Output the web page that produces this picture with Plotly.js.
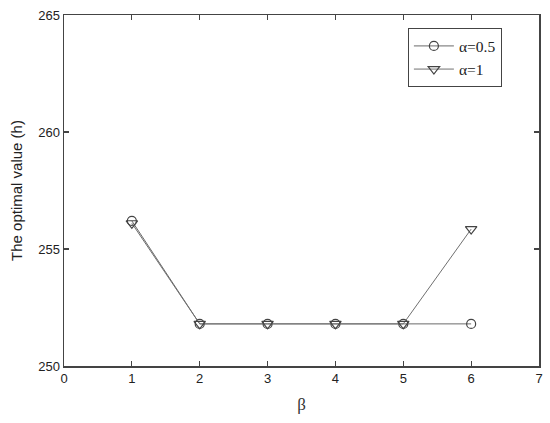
<!DOCTYPE html>
<html>
<head>
<meta charset="utf-8">
<script src="https://cdn.plot.ly/plotly-3.0.1.min.js"></script>
<style>html,body{margin:0;padding:0;background:#fff;}#chart{width:550px;height:423px;}</style>
</head>
<body>
<div id="chart"></div>
<script>
const beta = [1, 2, 3, 4, 5, 6];
const alpha05 = [256.2, 251.8, 251.8, 251.8, 251.8, 251.8];
const alpha1 = [256.1, 251.8, 251.8, 251.8, 251.8, 255.85];
const seriesNames = ['\u03b1=0.5', '\u03b1=1'];
const xTicks = [0, 1, 2, 3, 4, 5, 6, 7];
const yTicks = [250, 255, 260, 265];

const traces = [
  {
    x: beta, y: alpha05, name: seriesNames[0], type: 'scatter', mode: 'lines+markers',
    line: {color: '#6a6a6a', width: 1},
    marker: {symbol: 'circle-open', size: 9, color: '#444', line: {width: 1.2, color: '#444'}}
  },
  {
    x: beta, y: alpha1, name: seriesNames[1], type: 'scatter', mode: 'lines+markers',
    line: {color: '#707070', width: 1},
    marker: {symbol: 'triangle-down-open', size: 10, color: '#444', line: {width: 1.2, color: '#444'}}
  }
];

const axisCommon = {
  showgrid: false, zeroline: false, showline: true, linecolor: '#444', linewidth: 1.5,
  mirror: 'ticks', ticks: 'inside', ticklen: 5, tickwidth: 1.2, tickcolor: '#444',
  tickfont: {family: 'Liberation Sans, Arial, sans-serif', size: 13, color: '#222'}
};

const layout = {
  width: 550, height: 423,
  margin: {l: 64, r: 11, t: 15, b: 57},
  paper_bgcolor: '#fff', plot_bgcolor: '#fff',
  showlegend: true,
  xaxis: Object.assign({}, axisCommon, {
    range: [0, 7], tickvals: xTicks,
    title: {text: '\u03b2', font: {family: 'Liberation Serif, Times New Roman, serif', size: 17, color: '#333'}, standoff: 13}
  }),
  yaxis: Object.assign({}, axisCommon, {
    range: [250, 265], tickvals: yTicks,
    title: {text: 'The optimal value (h)', font: {family: 'Liberation Sans, Arial, sans-serif', size: 15, color: '#222'}, standoff: 12}
  }),
  legend: {
    x: 0.724, y: 0.962, xanchor: 'left', yanchor: 'top',
    bgcolor: '#fff', bordercolor: '#444', borderwidth: 1,
    font: {family: 'Liberation Serif, Times New Roman, serif', size: 15.5, color: '#222'},
    tracegroupgap: 0, itemwidth: 40
  }
};

Plotly.newPlot('chart', traces, layout, {displayModeBar: false, staticPlot: true});
</script>
</body>
</html>
